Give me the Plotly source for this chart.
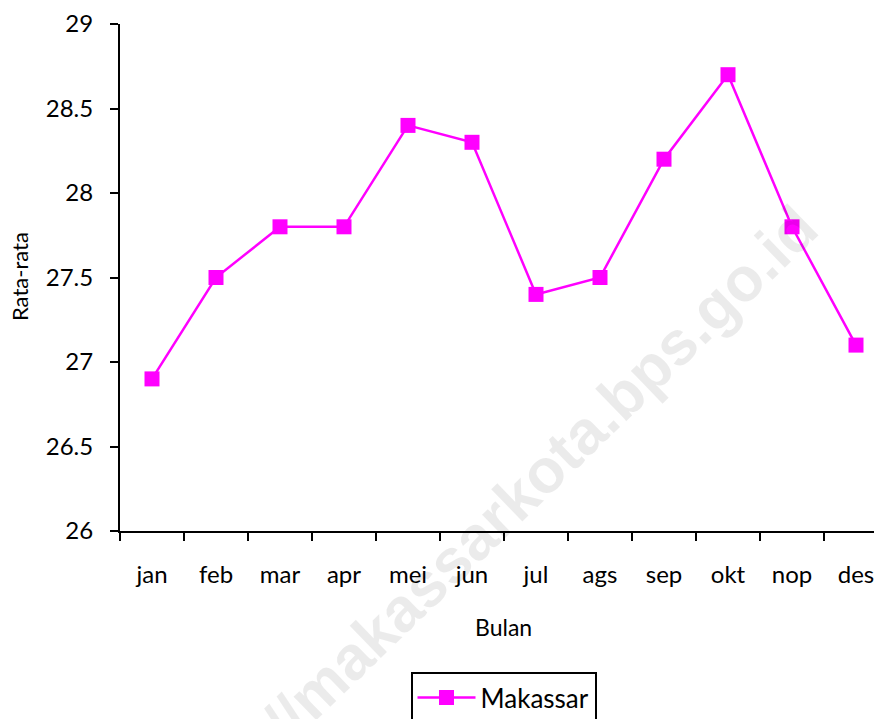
import plotly.graph_objects as go

months = ["jan", "feb", "mar", "apr", "mei", "jun", "jul", "ags", "sep", "okt", "nop", "des"]
makassar = [26.9, 27.5, 27.8, 27.8, 28.4, 28.3, 27.4, 27.5, 28.2, 28.7, 27.8, 27.1]
series_name = "Makassar"
y_title = "Rata-rata"
x_title = "Bulan"
watermark = "http://makassarkota.bps.go.id"

FONT = "Lato"
MAG = "#FF00FF"

fig = go.Figure()
fig.add_trace(go.Scatter(
    x=months, y=makassar, name=series_name, mode="lines+markers",
    line=dict(color=MAG, width=2.5),
    marker=dict(symbol="square", size=15, color=MAG),
))

# page body has an 8px margin; positions below are in figure coordinates
OFF = 8
W, H = 882, 719
L, T = 120 - OFF, 24 - OFF
bottom = 531 - OFF
B = H - bottom
R = 0
pw = W - L - R
ph = H - T - B

def px(x):
    return (x - OFF - L) / pw

def py(y):
    return (bottom - (y - OFF)) / ph

fig.update_layout(
    template="none",
    width=W, height=H,
    margin=dict(l=L, r=R, t=T, b=B, pad=0),
    paper_bgcolor="white", plot_bgcolor="white",
    font=dict(family=FONT, size=24, color="black"),
    showlegend=True,
    legend=dict(
        orientation="h", x=px(503.5), xanchor="center", y=py(672), yanchor="top",
        bordercolor="black", borderwidth=2, bgcolor="white",
        font=dict(family=FONT, size=26, color="black"),
        itemwidth=58,
    ),
    xaxis=dict(
        type="category", range=[-0.5, pw / 64 - 0.5], automargin=False,
        showline=True, linecolor="black", linewidth=2,
        ticks="outside", tickson="boundaries", ticklen=8, tickwidth=2, tickcolor="black",
        showgrid=False, zeroline=False,
        tickfont=dict(family=FONT, size=24), ticklabelstandoff=21,
    ),
    yaxis=dict(
        range=[26, 29], dtick=0.5, tick0=26, automargin=False,
        showline=True, linecolor="black", linewidth=2,
        ticks="outside", ticklen=8, tickwidth=2, tickcolor="black",
        showgrid=False, zeroline=False,
        tickfont=dict(family=FONT, size=24), ticklabelstandoff=12,
    ),
    annotations=[
        dict(text=watermark, xref="paper", yref="paper", x=px(490), y=py(522),
             xanchor="center", yanchor="middle",
             showarrow=False, textangle=-44,
             font=dict(family="Liberation Sans", size=62, weight="bold",
                       color="rgba(0,0,0,0.08)"),
             ),
        dict(text=x_title, xref="paper", yref="paper", x=px(503), y=py(627),
             xanchor="center", yanchor="middle", showarrow=False,
             font=dict(family=FONT, size=23)),
        dict(text=y_title, xref="paper", yref="paper", x=px(19), y=py(277),
             xanchor="center", yanchor="middle", showarrow=False, textangle=-90,
             font=dict(family=FONT, size=22)),
    ],
)

fig.write_html("out.html")
